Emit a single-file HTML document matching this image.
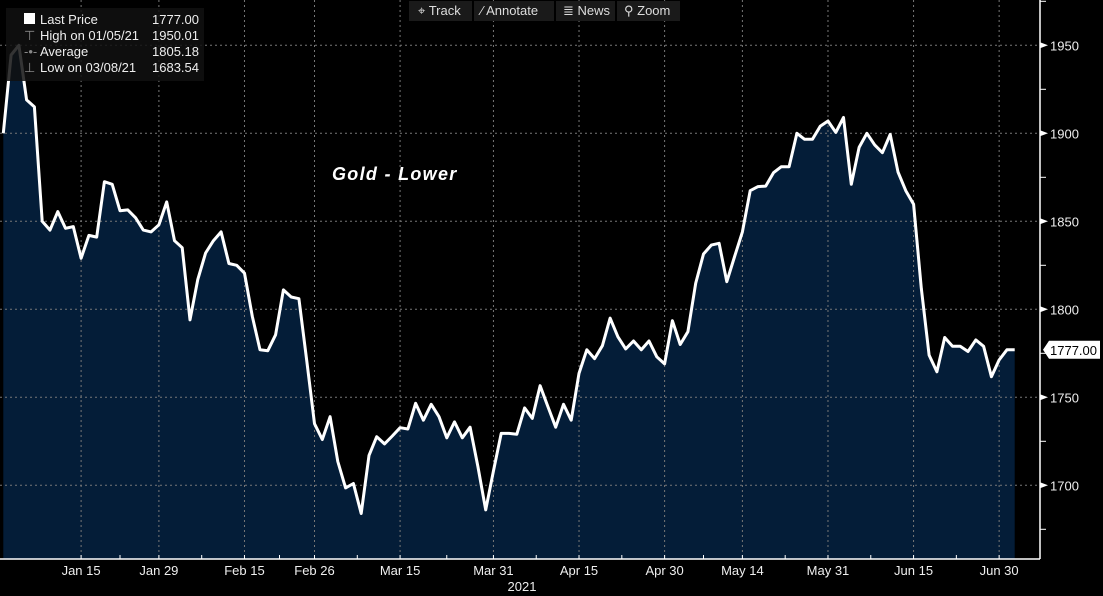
<!DOCTYPE html>
<html><head><meta charset="utf-8"><style>
body{margin:0;background:#000;width:1103px;height:596px;overflow:hidden;font-family:"Liberation Sans",sans-serif}
svg{display:block}
</style></head><body>
<svg id="chart" width="1103" height="596" xmlns="http://www.w3.org/2000/svg">
<rect width="1103" height="596" fill="#000"/>
<path id="area" fill="#041d38"/>
<g id="grid"></g>
<path id="line" fill="none" stroke="#fff" stroke-width="3" stroke-linejoin="round"/>
<g id="axes"></g>
<text x="332" y="180" fill="#fff" font-size="18" font-weight="bold" font-style="italic" letter-spacing="1.3">Gold - Lower</text>
<g font-size="13" fill="#ddd">
<rect x="409" y="1" width="63" height="20" fill="#1a1a1a"/>
<rect x="474" y="1" width="80" height="20" fill="#1a1a1a"/>
<rect x="556" y="1" width="59" height="20" fill="#1a1a1a"/>
<rect x="617" y="1" width="63" height="20" fill="#1a1a1a"/>
<text x="418" y="15" fill="#ddd">⌖ Track</text>
<text x="481" y="15" fill="#ddd">⁄ Annotate</text>
<text x="563" y="15" fill="#ddd">≣ News</text>
<text x="624" y="15" fill="#ddd">⚲ Zoom</text>
</g>
<g font-size="13" fill="#eee">
<rect x="6" y="8" width="198" height="73" fill="#111" opacity="0.85"/>
<rect x="24" y="13" width="11" height="11" fill="#fff"/>
<text x="40" y="24">Last Price</text><text x="152" y="24">1777.00</text>
<text x="40" y="40">High on 01/05/21</text><text x="152" y="40">1950.01</text>
<text x="40" y="56">Average</text><text x="152" y="56">1805.18</text>
<text x="40" y="72">Low on 03/08/21</text><text x="152" y="72">1683.54</text>
<text x="24" y="40" fill="#888">⊤</text><text x="24" y="56" fill="#888">-•-</text><text x="24" y="72" fill="#888">⊥</text>
</g>
</svg>
<script>
const prices=[1900,1944.5,1950,1919,1915,1850,1845,1855.5,1846,1847,1829,1842,1841,1872.5,1871,1856,1856.5,1852,1845,1844,1848,1861,1839,1835,1794,1817,1832,1839,1844,1826,1825,1820.5,1796,1777,1776.5,1785.5,1811,1807,1806,1771,1735,1726,1739,1713.5,1698.5,1701,1684,1717,1727.6,1723.5,1728,1732.7,1732,1746.6,1737,1746,1739,1727,1736,1727,1733,1710.6,1686,1708,1729.5,1729.5,1729,1744,1738,1756.6,1744.7,1733,1746,1737,1763.6,1777,1772,1779.3,1795,1784.4,1777.5,1782,1777,1782,1773,1769,1793.5,1780,1787.3,1814.8,1831.4,1836.5,1837.5,1815.7,1830,1844,1867.4,1869.7,1870,1877.6,1881,1881,1900,1896.6,1896.6,1904,1907,1900.5,1909,1871,1892,1900,1893.4,1889,1899.4,1878,1867.4,1859.7,1812,1774,1764.5,1784,1779,1779,1776,1782.6,1779,1761.7,1771.2,1777,1777];
const dateLabels=["Jan 15","Jan 29","Feb 15","Feb 26","Mar 15","Mar 31","Apr 15","Apr 30","May 14","May 31","Jun 15","Jun 30"];
const dateLabelIdx=[10,20,31,40,51,63,74,85,95,106,117,128];
const yTicks=[1700,1750,1800,1850,1900,1950];
const lastValue=1777.00;
const NS="http://www.w3.org/2000/svg";
const X0=3.3,STEP=7.78,YREF=1900,YREFPX=133.3,PXU=1.76,BOTTOM=559,AXX=1040;
function xs(i){return X0+i*STEP;}
function ys(v){return YREFPX-(v-YREF)*PXU;}
function mk(tag,attrs,parent){const e=document.createElementNS(NS,tag);for(const k in attrs)e.setAttribute(k,attrs[k]);parent.appendChild(e);return e;}
const grid=document.getElementById('grid'),axes=document.getElementById('axes');
let d='';prices.forEach((v,i)=>{d+=(i?'L':'M')+xs(i).toFixed(1)+' '+ys(v).toFixed(1);});
document.getElementById('line').setAttribute('d',d);
document.getElementById('area').setAttribute('d',d+'L'+xs(prices.length-1)+' '+BOTTOM+'L'+xs(0)+' '+BOTTOM+'Z');
yTicks.forEach(t=>{
 const y=ys(t);
 const g=mk('line',{x1:0,x2:AXX,y1:y,y2:y,stroke:'#777','stroke-dasharray':'2,3','stroke-width':1},grid);
 
 
 mk('path',{d:`M${AXX} ${y-3}L${AXX+8} ${y}L${AXX} ${y+3}Z`,fill:'#fff'},axes);
 const tx=mk('text',{x:AXX+10,y:y+5,fill:'#eee','font-size':13},axes);
 tx.textContent=t;
 
 
 const m=ys(t+25);
 if(m>0)mk('line',{x1:AXX,x2:AXX+6,y1:m,y2:m,stroke:'#fff'},axes);
});
mk('line',{x1:AXX,x2:AXX+6,y1:ys(1675),y2:ys(1675),stroke:'#fff'},axes);
dateLabels.forEach((lab,k)=>{
 const x=xs(dateLabelIdx[k]);
 const g=mk('line',{x1:x,x2:x,y1:0,y2:BOTTOM,stroke:'#777','stroke-dasharray':'2,3','stroke-width':1},grid);
 
 
 mk('line',{x1:x,x2:x,y1:BOTTOM,y2:BOTTOM-4,stroke:'#fff'},axes);
 const tx=mk('text',{x:x,y:575,fill:'#eee','font-size':13,'text-anchor':'middle'},axes);
 tx.textContent=lab;
 
 
 if(k<dateLabels.length-1){const mx=(x+xs(dateLabelIdx[k+1]))/2;mk('line',{x1:mx,x2:mx,y1:BOTTOM,y2:BOTTOM-4,stroke:'#fff'},axes);}
});
mk('line',{x1:0,x2:AXX,y1:BOTTOM,y2:BOTTOM,stroke:'#fff','stroke-width':1.5},axes);
mk('line',{x1:AXX,x2:AXX,y1:0,y2:BOTTOM,stroke:'#fff','stroke-width':1.5},axes);
const yr=mk('text',{x:522,y:591,fill:'#eee','font-size':13,'text-anchor':'middle'},axes);
yr.textContent='2021';


const ly=ys(lastValue);
const tag=mk('path',{d:`M${AXX+3} ${ly}L${AXX+9} ${ly-9}H1100V${ly+9}H${AXX+9}Z`,fill:'#fff'},axes);


const lt=mk('text',{x:AXX+10,y:ly+5,fill:'#000','font-size':13},axes);
lt.textContent=lastValue.toFixed(2);


</script>
</body></html>
